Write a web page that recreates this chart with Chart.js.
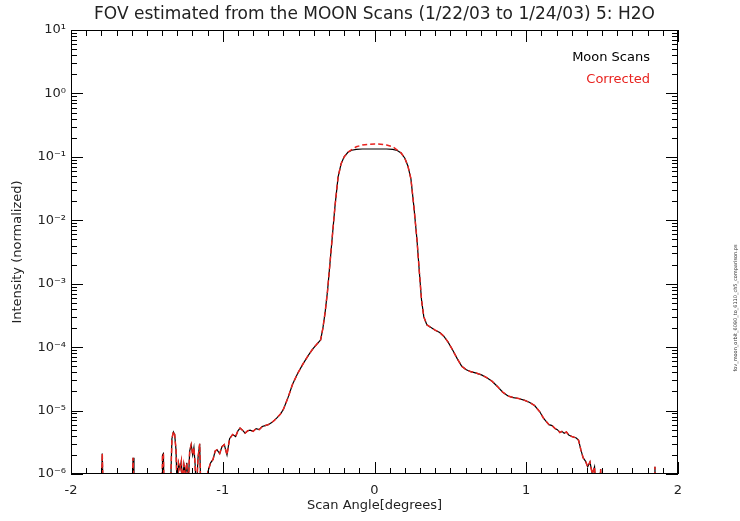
<!DOCTYPE html>
<html>
<head>
<meta charset="utf-8">
<script src="https://cdn.jsdelivr.net/npm/chart.js@4.4.1/dist/chart.umd.min.js"></script>
<style>
  html, body { margin: 0; padding: 0; background: #fff; }
  #fov { display: block; }
</style>
</head>
<body>
<canvas id="fov" width="740" height="521"></canvas>
<script>
// chart texts
var titleText = "FOV estimated from the MOON Scans (1/22/03 to 1/24/03) 5: H2O";
var xTitle = "Scan Angle[degrees]";
var yTitle = "Intensity (normalized)";
var fileTag = "fov_moon_orbit_6090_to_6110_ch5_comparison.ps";
var seriesLabels = ["Moon Scans", "Corrected"];

// axis ranges
var xTicks = [-2, -1, 0, 1, 2];
var yDecades = [-6, -5, -4, -3, -2, -1, 0, 1];

// scan angle (degrees), null values break the line
var angles = [
  -1.800, -1.794, -1.788, -1.700,
  -1.597, -1.591, -1.585, -1.500,
  -1.400, -1.397, -1.391, -1.387, -1.365,
  -1.345, -1.335, -1.325, -1.317, -1.308, -1.300, -1.292, -1.282, -1.273, -1.265,
  -1.256, -1.246, -1.237, -1.228, -1.218, -1.208, -1.198, -1.190, -1.182, -1.174,
  -1.163, -1.152, -1.145, -1.135, -1.115, -1.097, -1.080, -1.064, -1.050, -1.038,
  -1.020, -1.005, -0.990, -0.972, -0.955, -0.935, -0.915, -0.900, -0.886, -0.870,
  -0.853, -0.835, -0.820, -0.800, -0.780, -0.760, -0.740, -0.720, -0.700, -0.680,
  -0.660, -0.640, -0.620, -0.600, -0.570, -0.540, -0.505, -0.470, -0.435, -0.405,
  -0.375, -0.355, -0.340, -0.325, -0.310, -0.295, -0.280, -0.260, -0.240, -0.220,
  -0.200, -0.175, -0.150, -0.120, -0.080, -0.040, 0.000, 0.040, 0.080, 0.120,
  0.150, 0.175, 0.200, 0.220, 0.240, 0.260, 0.280, 0.295, 0.310, 0.325,
  0.345, 0.370, 0.400, 0.430, 0.455, 0.485, 0.515, 0.545, 0.575, 0.605,
  0.635, 0.670, 0.705, 0.740, 0.775, 0.810, 0.845, 0.880, 0.915, 0.950,
  0.990, 1.020, 1.055, 1.090, 1.115, 1.135, 1.150, 1.170, 1.190, 1.205,
  1.222, 1.235, 1.250, 1.265, 1.280, 1.300, 1.315, 1.330, 1.345, 1.360,
  1.375, 1.390, 1.405, 1.420, 1.435, 1.450, 1.460, 1.470,
  1.483, 1.490, 1.497, 1.600,
  1.844, 1.848, 1.852
];

var moonScans = [
  5e-7, 2.1e-6, 5e-7, null,
  5e-7, 1.8e-6, 5e-7, null,
  5e-7, 2.0e-6, 2.1e-6, 5e-7, null,
  5e-7, 3.6e-6, 4.6e-6, 4.2e-6, 2.4e-6, 5e-7, 1.5e-6, 1.2e-6, 1.6e-6, 7e-7,
  1.4e-6, 1.0e-6, 1.5e-6, 6e-7, 2.3e-6, 2.9e-6, 2.0e-6, 2.6e-6, 1.4e-6, 5e-7,
  1.8e-6, 3.0e-6, 6e-7, 5e-7, 7e-7, 1.1e-6, 1.5e-6, 1.7e-6, 2.3e-6, 2.4e-6,
  2.1e-6, 2.7e-6, 2.9e-6, 2.0e-6, 3.6e-6, 4.2e-6, 3.9e-6, 4.8e-6, 5.3e-6, 4.9e-6,
  4.4e-6, 4.8e-6, 4.9e-6, 4.7e-6, 5.2e-6, 5.0e-6, 5.6e-6, 5.8e-6, 6.0e-6, 6.4e-6,
  7.0e-6, 7.8e-6, 8.8e-6, 1.05e-5, 1.6e-5, 2.6e-5, 3.9e-5, 5.5e-5, 7.5e-5, 9.5e-5,
  1.15e-4, 1.3e-4, 2.0e-4, 3.6e-4, 7.5e-4, 1.9e-3, 4.9e-3, 1.7e-2, 4.8e-2, 7.8e-2,
  0.100, 0.118, 0.127, 0.131, 0.133, 0.133, 0.133, 0.133, 0.133, 0.131,
  0.126, 0.115, 0.095, 0.072, 0.045, 1.6e-2, 4.9e-3, 1.6e-3, 5.5e-4, 3.0e-4,
  2.25e-4, 2.05e-4, 1.85e-4, 1.7e-4, 1.5e-4, 1.2e-4, 9.0e-5, 6.6e-5, 5.0e-5, 4.4e-5,
  4.1e-5, 3.9e-5, 3.65e-5, 3.3e-5, 2.9e-5, 2.4e-5, 1.95e-5, 1.7e-5, 1.6e-5, 1.55e-5,
  1.45e-5, 1.35e-5, 1.2e-5, 9.5e-6, 7.5e-6, 6.6e-6, 6.0e-6, 5.8e-6, 5.2e-6, 5.0e-6,
  4.5e-6, 4.7e-6, 4.4e-6, 4.6e-6, 4.1e-6, 3.9e-6, 3.8e-6, 3.7e-6, 3.4e-6, 2.4e-6,
  1.8e-6, 1.6e-6, 1.3e-6, 1.55e-6, 1.0e-6, 1.3e-6, 5e-7, null,
  5e-7, 1.2e-6, 5e-7, null,
  5e-7, 1.3e-6, 5e-7
];

var corrected = [
  5e-7, 2.1e-6, 5e-7, null,
  5e-7, 1.8e-6, 5e-7, null,
  5e-7, 2.0e-6, 2.1e-6, 5e-7, null,
  5e-7, 3.6e-6, 4.7e-6, 4.2e-6, 2.4e-6, 5e-7, 1.5e-6, 1.2e-6, 1.6e-6, 7e-7,
  1.4e-6, 1.0e-6, 1.5e-6, 6e-7, 2.3e-6, 2.9e-6, 2.0e-6, 2.6e-6, 1.4e-6, 5e-7,
  1.8e-6, 3.0e-6, 6e-7, 5e-7, 7e-7, 1.1e-6, 1.5e-6, 1.7e-6, 2.3e-6, 2.4e-6,
  2.1e-6, 2.7e-6, 2.9e-6, 2.0e-6, 3.6e-6, 4.2e-6, 3.9e-6, 4.8e-6, 5.3e-6, 4.9e-6,
  4.4e-6, 4.8e-6, 4.9e-6, 4.7e-6, 5.2e-6, 5.0e-6, 5.6e-6, 5.8e-6, 6.0e-6, 6.4e-6,
  7.0e-6, 7.8e-6, 8.8e-6, 1.05e-5, 1.6e-5, 2.6e-5, 3.9e-5, 5.5e-5, 7.5e-5, 9.5e-5,
  1.15e-4, 1.3e-4, 2.0e-4, 3.6e-4, 7.5e-4, 1.9e-3, 4.9e-3, 1.7e-2, 4.8e-2, 7.8e-2,
  0.100, 0.119, 0.130, 0.144, 0.154, 0.158, 0.160, 0.158, 0.154, 0.144,
  0.128, 0.116, 0.095, 0.072, 0.045, 1.6e-2, 4.9e-3, 1.6e-3, 5.5e-4, 3.0e-4,
  2.25e-4, 2.05e-4, 1.85e-4, 1.7e-4, 1.5e-4, 1.2e-4, 9.0e-5, 6.6e-5, 5.0e-5, 4.4e-5,
  4.1e-5, 3.9e-5, 3.65e-5, 3.3e-5, 2.9e-5, 2.4e-5, 1.95e-5, 1.7e-5, 1.6e-5, 1.55e-5,
  1.45e-5, 1.35e-5, 1.2e-5, 9.5e-6, 7.5e-6, 6.6e-6, 6.0e-6, 5.8e-6, 5.2e-6, 5.0e-6,
  4.5e-6, 4.7e-6, 4.4e-6, 4.6e-6, 4.1e-6, 3.9e-6, 3.8e-6, 3.7e-6, 3.4e-6, 2.4e-6,
  1.8e-6, 1.6e-6, 1.3e-6, 1.55e-6, 1.0e-6, 1.3e-6, 5e-7, null,
  5e-7, 1.2e-6, 5e-7, null,
  5e-7, 1.3e-6, 5e-7
];

var textColor = "#222";
var redColor = "#e8231f";
var fontFamily = "'DejaVu Sans', sans-serif";

// superscript digits for the decade labels
var sup = { "-": "\u207B", "0": "\u2070", "1": "\u00B9", "2": "\u00B2", "3": "\u00B3",
            "4": "\u2074", "5": "\u2075", "6": "\u2076", "7": "\u2077", "8": "\u2078", "9": "\u2079" };

function toPoints(values) {
  return angles.map(function (a, i) {
    return { x: a, y: values[i] };
  });
}

function decadeLabel(value) {
  var e = Math.round(Math.log10(value));
  if (Math.abs(Math.log10(value) - e) > 1e-6) return "";
  return "10" + String(e).split("").map(function (c) { return sup[c]; }).join("");
}

// frame, inward ticks and free texts
var framePlugin = {
  id: "idlFrame",
  afterDraw: function (chart) {
    var ctx = chart.ctx;
    var area = chart.chartArea;
    var xs = chart.scales.x;
    var ys = chart.scales.y;
    ctx.save();
    ctx.strokeStyle = "#000";
    ctx.lineWidth = 1;
    ctx.strokeRect(area.left + 0.5, area.top + 0.5, area.right - area.left - 1, area.bottom - area.top - 1);

    ctx.beginPath();
    // x ticks, major every 1, minor every 0.1
    for (var k = -20; k <= 20; k++) {
      var px = Math.round(xs.getPixelForValue(k / 10)) + 0.5;
      var len = (k % 10 === 0) ? 12 : 6;
      ctx.moveTo(px, area.bottom); ctx.lineTo(px, area.bottom - len);
      ctx.moveTo(px, area.top); ctx.lineTo(px, area.top + len);
    }
    // y ticks, major at decades, minor at 2..9
    yDecades.forEach(function (e) {
      for (var m = 1; m <= 9; m++) {
        if (e === 1 && m > 1) break;
        var py = Math.round(ys.getPixelForValue(m * Math.pow(10, e))) + 0.5;
        var l = (m === 1) ? 12 : 6;
        ctx.moveTo(area.left, py); ctx.lineTo(area.left + l, py);
        ctx.moveTo(area.right, py); ctx.lineTo(area.right - l, py);
      }
    });
    ctx.stroke();

    // title
    ctx.fillStyle = textColor;
    ctx.font = "17px " + fontFamily;
    ctx.textAlign = "center";
    ctx.textBaseline = "alphabetic";
    ctx.fillText(titleText, (area.left + area.right) / 2, 19);

    // legend texts
    ctx.font = "13px " + fontFamily;
    ctx.textAlign = "right";
    ctx.fillStyle = "#000";
    ctx.fillText(seriesLabels[0], 650, 61);
    ctx.fillStyle = redColor;
    ctx.fillText(seriesLabels[1], 650, 83);

    // file tag on the right margin
    ctx.translate(737, 308);
    ctx.rotate(-Math.PI / 2);
    ctx.font = "5px " + fontFamily;
    ctx.textAlign = "center";
    ctx.fillStyle = "#333";
    ctx.fillText(fileTag, 0, 0);
    ctx.restore();
  }
};

var fov = new Chart("fov", {
  type: "line",
  data: {
    datasets: [{
      label: seriesLabels[1],
      data: toPoints(corrected),
      borderColor: redColor,
      borderWidth: 1.5,
      borderDash: [5, 3],
      pointRadius: 0,
      order: 0
    }, {
      label: seriesLabels[0],
      data: toPoints(moonScans),
      borderColor: "#000",
      borderWidth: 1.2,
      pointRadius: 0,
      order: 1
    }]
  },
  options: {
    responsive: false,
    animation: false,
    devicePixelRatio: 1,
    layout: { padding: { left: 0, top: 30, right: 62, bottom: 0 } },
    plugins: {
      legend: { display: false },
      tooltip: { enabled: false }
    },
    scales: {
      x: {
        type: "linear",
        min: -2,
        max: 2,
        afterFit: function (scale) { scale.height = 47; },
        afterBuildTicks: function (scale) {
          scale.ticks = xTicks.map(function (v) { return { value: v }; });
        },
        grid: { display: false, drawTicks: false },
        border: { display: false },
        ticks: { color: textColor, font: { family: fontFamily, size: 13 }, padding: 9 },
        title: { display: true, text: xTitle, color: textColor,
                 font: { family: fontFamily, size: 13 }, padding: { top: 0, bottom: 8 } }
      },
      y: {
        type: "logarithmic",
        min: 1e-6,
        max: 10,
        afterFit: function (scale) { scale.width = 71; },
        grid: { display: false, drawTicks: false },
        border: { display: false },
        ticks: { color: textColor, font: { family: fontFamily, size: 13 }, padding: 5,
                 autoSkip: false, callback: decadeLabel },
        title: { display: true, text: yTitle, color: textColor,
                 font: { family: fontFamily, size: 13 }, padding: { top: 10, bottom: 0 } }
      }
    }
  },
  plugins: [framePlugin]
});
</script>
</body>
</html>
